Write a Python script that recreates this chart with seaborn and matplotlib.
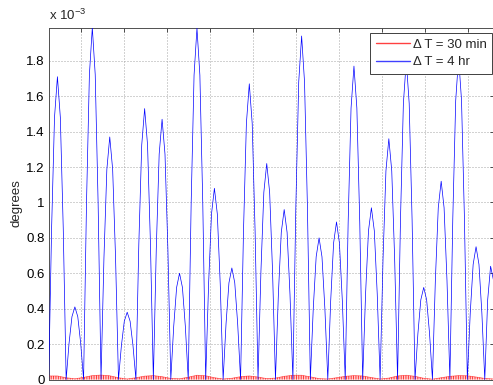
import matplotlib
matplotlib.use("Agg")
import matplotlib.pyplot as plt
from matplotlib.lines import Line2D
import numpy as np
import pandas as pd
import seaborn as sns

# Attitude error (units of 1e-3 degrees)
# 4 hr update interval, sampled every 40 min
blue_step_hr = 4.0 / 6.0
blue_err = [
    0, 0.855, 1.481, 1.71, 1.481, 0.855,
    0, 0.205, 0.355, 0.41, 0.355, 0.205,
    0, 0.994, 1.722, 1.988, 1.722, 0.994,
    0, 0.685, 1.186, 1.37, 1.186, 0.685,
    0, 0.19, 0.329, 0.38, 0.329, 0.19,
    0, 0.765, 1.325, 1.53, 1.325, 0.765,
    0, 0.735, 1.273, 1.47, 1.273, 0.735,
    0, 0.30, 0.52, 0.60, 0.52, 0.30,
    0, 0.993, 1.719, 1.985, 1.719, 0.993,
    0, 0.54, 0.935, 1.08, 0.935, 0.54,
    0, 0.315, 0.546, 0.63, 0.546, 0.315,
    0, 0.835, 1.446, 1.67, 1.446, 0.835,
    0, 0.61, 1.057, 1.22, 1.057, 0.61,
    0, 0.48, 0.831, 0.96, 0.831, 0.48,
    0, 0.97, 1.68, 1.94, 1.68, 0.97,
    0, 0.40, 0.693, 0.80, 0.693, 0.40,
    0, 0.445, 0.771, 0.89, 0.771, 0.445,
    0, 0.885, 1.533, 1.77, 1.533, 0.885,
    0, 0.485, 0.84, 0.97, 0.84, 0.485,
    0, 0.68, 1.178, 1.36, 1.178, 0.68,
    0, 0.90, 1.559, 1.80, 1.559, 0.90,
    0, 0.26, 0.45, 0.52, 0.45, 0.26,
    0, 0.56, 0.97, 1.12, 0.97, 0.56,
    0, 0.91, 1.576, 1.82, 1.576, 0.91,
    0, 0.375, 0.65, 0.75, 0.65, 0.375,
    0, 0.45, 0.64, 0.56,
]

# 30 min update interval: peak error of the fast ripple, every 2 hr
red_step_hr = 2.0
red_err = [
    0.020, 0.020, 0.010, 0.004, 0.012, 0.022, 0.025, 0.021, 0.010, 0.003,
    0.010, 0.019, 0.022, 0.016, 0.006, 0.004, 0.013, 0.024, 0.021, 0.010,
    0.003, 0.007, 0.016, 0.020, 0.014, 0.005, 0.008, 0.018, 0.024, 0.024,
    0.015, 0.005, 0.003, 0.010, 0.018, 0.022, 0.020, 0.011, 0.003, 0.008,
    0.020, 0.024, 0.018, 0.007, 0.002, 0.010, 0.018, 0.022, 0.021, 0.014,
    0.006, 0.003,
]

y_ticks = [0, 0.2, 0.4, 0.6, 0.8, 1.0, 1.2, 1.4, 1.6, 1.8]
x_grid_hr = [7.3, 17.2, 27.1, 37.0, 46.8, 56.7, 66.6, 76.5, 86.4, 96.2]
series_labels = ["\u0394 T = 30 min", "\u0394 T = 4 hr"]
series_colors = ["red", "blue"]
y_label = "degrees"

FS = 9.5

sns.set_style("white")
plt.rcParams["font.family"] = ["Liberation Sans", "DejaVu Sans"]
plt.rcParams["mathtext.fontset"] = "custom"
plt.rcParams["mathtext.rm"] = "Liberation Sans"
plt.rcParams["hatch.linewidth"] = 0.6

blue = pd.DataFrame({"hours": np.arange(len(blue_err)) * blue_step_hr,
                     "err": blue_err})
red = pd.DataFrame({"hours": np.arange(len(red_err)) * red_step_hr,
                    "err": red_err})

fig = plt.figure(figsize=(4.93, 3.85), dpi=100)
ax = fig.add_axes([48.7 / 493, 5.5 / 385, 444.8 / 493, 352 / 385])

# fast ripple band of the 30 min solution
ax.fill_between(red["hours"], 0, red["err"], facecolor="#ffcaca",
                edgecolor="#ff2020", hatch="|" * 7, linewidth=0, zorder=2)
sns.lineplot(data=red, x="hours", y="err", ax=ax, color=series_colors[0],
             linewidth=0.5, alpha=0.6, estimator=None, zorder=3)
sns.lineplot(data=blue, x="hours", y="err", ax=ax, color=series_colors[1],
             linewidth=0.5, estimator=None, zorder=4)

ax.set_xlim(blue["hours"].min(), blue["hours"].max())
ax.set_ylim(0, max(blue_err))
ax.set_xticks(x_grid_hr)
ax.set_yticks(y_ticks)
ax.set_yticklabels([f"{v:g}" for v in y_ticks])
ax.set_xlabel("")
ax.set_ylabel(y_label, fontsize=FS, labelpad=3.0)

ax.grid(True, color="#a6a6a6", linestyle=(0, (1, 2)), linewidth=0.72)
ax.set_axisbelow(True)
ax.tick_params(direction="in", length=3.2, width=0.6, color="#303030",
               top=True, right=True, labelsize=FS, pad=2.7,
               labelbottom=False, labelcolor="black")
for s in ax.spines.values():
    s.set_visible(True)
    s.set_color("#505050")
    s.set_linewidth(0.7)

ax.text(0.0, 1.012, r"x 10$^{\mathregular{-3}}$", transform=ax.transAxes,
        fontsize=FS, ha="left", va="bottom")

handles = [Line2D([], [], color=c, linewidth=1.0, alpha=0.75)
           for c in series_colors]
leg = ax.legend(handles, series_labels, loc="upper right",
                bbox_to_anchor=(0.996, 0.984), borderaxespad=0, fontsize=FS,
                frameon=True, fancybox=False, framealpha=1,
                edgecolor="#404040", handlelength=2.6, handletextpad=0.2,
                labelspacing=0.42, borderpad=0.4)
leg.get_frame().set_linewidth(0.7)

fig.savefig("out.png", dpi=100)
